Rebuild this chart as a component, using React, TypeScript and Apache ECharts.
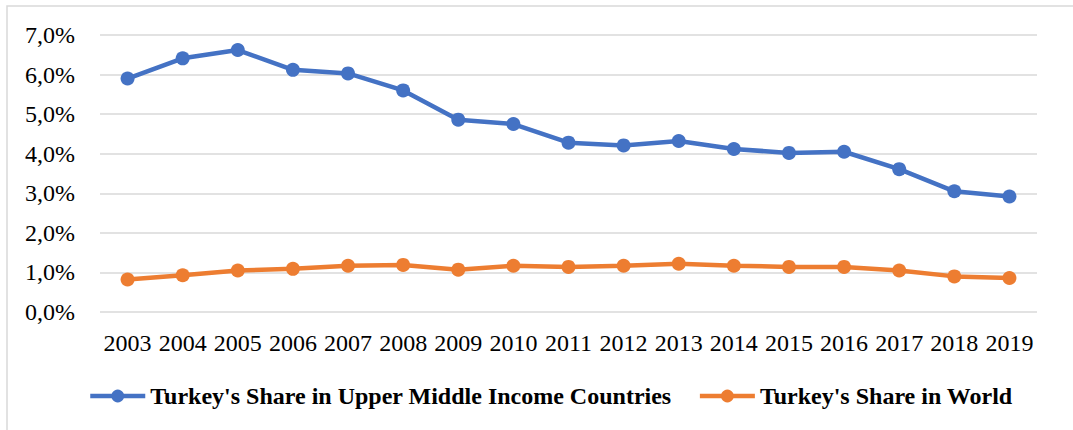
import React, { useEffect, useRef } from "react";
import * as echarts from "echarts";

const years = ["2003","2004","2005","2006","2007","2008","2009","2010","2011","2012","2013","2014","2015","2016","2017","2018","2019"];
const upperMiddleShare = [5.90, 6.41, 6.62, 6.12, 6.03, 5.60, 4.86, 4.75, 4.28, 4.21, 4.32, 4.12, 4.02, 4.05, 3.61, 3.05, 2.92];
const worldShare = [0.82, 0.93, 1.05, 1.09, 1.17, 1.19, 1.07, 1.17, 1.14, 1.17, 1.22, 1.17, 1.14, 1.14, 1.05, 0.90, 0.86];
const seriesNames = ["Turkey's Share in Upper Middle Income Countries", "Turkey's Share in World"];

const FONT = "'Liberation Serif', 'Times New Roman', serif";

export default function App() {
  const ref = useRef<HTMLDivElement>(null);
  useEffect(() => {
    if (!ref.current) return;
    const chart = echarts.init(ref.current, null, { renderer: "svg" });
    chart.setOption({
      animation: false,
      backgroundColor: "#fff",
      textStyle: { fontFamily: FONT, color: "#000" },
      graphic: [
        {
          type: "rect",
          shape: { x: 7, y: 6, width: 1080, height: 440 },
          style: { fill: "none", stroke: "#d9d9d9", lineWidth: 1.5 },
          silent: true,
          z: -1,
        },
      ],
      grid: { left: 100, right: 36, top: 35, bottom: 118, containLabel: false },
      legend: {
        left: 88,
        top: 384,
        padding: 0,
        itemWidth: 55,
        itemHeight: 16,
        itemGap: 26,
        lineStyle: { width: 4.5 },
        textStyle: { fontFamily: FONT, fontSize: 24, fontWeight: "bold", color: "#000" },
        data: seriesNames,
      },
      xAxis: {
        type: "category",
        data: years,
        boundaryGap: true,
        axisLine: { show: false },
        axisTick: { show: false },
        axisLabel: { interval: 0, fontFamily: FONT, fontSize: 24, color: "#000", margin: 19 },
      },
      yAxis: {
        type: "value",
        min: 0,
        max: 7,
        interval: 1,
        axisLine: { show: false },
        axisTick: { show: false },
        splitLine: { lineStyle: { color: "#d9d9d9", width: 1.5 } },
        axisLabel: {
          fontFamily: FONT,
          fontSize: 24,
          color: "#000",
          margin: 25,
          formatter: (v: number) => v.toFixed(1).replace(".", ",") + "%",
        },
      },
      series: [
        {
          name: seriesNames[0],
          type: "line",
          data: upperMiddleShare,
          symbol: "circle",
          symbolSize: 14,
          lineStyle: { color: "#4472C4", width: 4.5 },
          itemStyle: { color: "#4472C4" },
        },
        {
          name: seriesNames[1],
          type: "line",
          data: worldShare,
          symbol: "circle",
          symbolSize: 14,
          lineStyle: { color: "#ED7D31", width: 4.5 },
          itemStyle: { color: "#ED7D31" },
        },
      ],
    });
    return () => chart.dispose();
  }, []);
  return (
    <div
      ref={ref}
      style={{ position: "fixed", left: 0, top: 0, width: 1073, height: 430 }}
    />
  );
}
